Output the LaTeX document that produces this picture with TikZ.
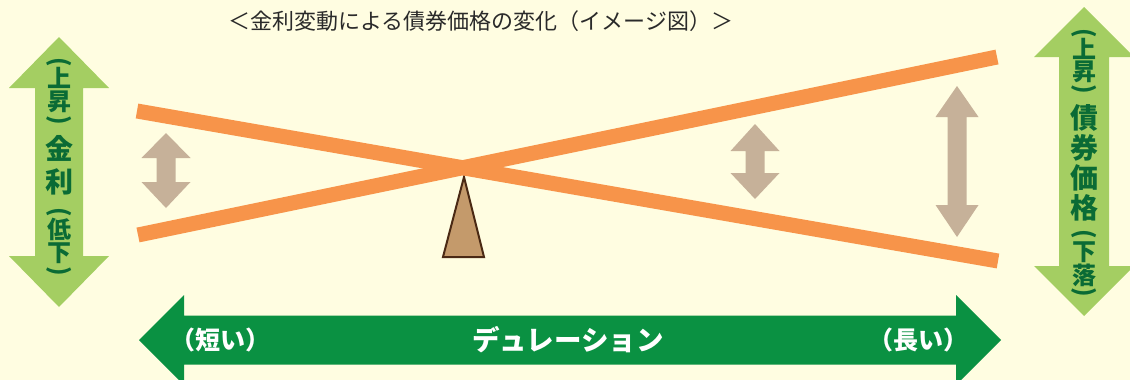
\documentclass[tikz,border=0pt]{standalone}
\usepackage{fontspec}
\setmainfont{Noto Sans CJK JP}
\begin{document}
\begin{tikzpicture}[x=1pt,y=-1pt,
  lgreen/.style={fill=arrowgreen,draw=none},
  tanarrow/.style={fill=tanc,draw=none},
  vtext/.style={text=textgreen,font=\bfseries\fontsize{24}{24}\selectfont,inner sep=0pt},
  vbig/.style={text=textgreen,font=\bfseries\fontsize{28}{28}\selectfont,inner sep=0pt},
  vparen/.style={text=textgreen,font=\bfseries\fontsize{24}{24}\selectfont,inner sep=0pt,rotate=-90},
  wtext/.style={text=white,font=\bfseries\fontsize{25}{25}\selectfont,inner sep=0pt},
  beam/.style={draw=orangec,line width=15pt}
]
\definecolor{bgc}{HTML}{FFFDE1}
\definecolor{arrowgreen}{HTML}{A4CE62}
\definecolor{textgreen}{HTML}{0A6B35}
\definecolor{darkgreen}{HTML}{0A9142}
\definecolor{tanc}{HTML}{C6B199}
\definecolor{orangec}{HTML}{F7944A}
\definecolor{fulcrum}{HTML}{C49A6B}
\definecolor{fulcrumline}{HTML}{4A2914}
\definecolor{titlec}{HTML}{2A2A2A}
\fill[bgc] (0,0) rectangle (1130,380);
\useasboundingbox (0,0) rectangle (1130,380);

% title
\node[text=titlec,font=\fontsize{22}{22}\selectfont,inner sep=0pt] (title) at (481,21) {＜金利変動による債券価格の変化（イメージ図）＞};

% left big arrow
\fill[lgreen] (59,37) -- (109,88) -- (83,88) -- (83,256) -- (109,256) -- (59,307) -- (9,256) -- (35,256) -- (35,88) -- (9,88) -- cycle;
% right big arrow
\fill[lgreen] (1084,7) -- (1134,57) -- (1109,57) -- (1109,266) -- (1134,266) -- (1084,316) -- (1034,266) -- (1059,266) -- (1059,57) -- (1034,57) -- cycle;

% bottom duration arrow
\fill[darkgreen] (139,340) -- (184,295) -- (184,315.5) -- (956,315.5) -- (956,295) -- (1001,340) -- (956,385) -- (956,364.5) -- (184,364.5) -- (184,385) -- cycle;

% tan arrows
\fill[tanarrow] (166,133) -- (190.5,158) -- (175.5,158) -- (175.5,182) -- (190.5,182) -- (166,208) -- (141.5,182) -- (156.5,182) -- (156.5,158) -- (141.5,158) -- cycle;
\fill[tanarrow] (755,124) -- (779.5,151) -- (764.5,151) -- (764.5,173) -- (779.5,173) -- (755,199) -- (730.5,173) -- (745.5,173) -- (745.5,151) -- (730.5,151) -- cycle;
\fill[tanarrow] (957,86) -- (978.5,117) -- (966.5,117) -- (966.5,205) -- (978.5,205) -- (957,237) -- (935.5,205) -- (947.5,205) -- (947.5,117) -- (935.5,117) -- cycle;

% fulcrum
\coordinate (apex) at (464,177);
\coordinate (bl) at (443,257);
\coordinate (br) at (484,257);
\filldraw[fill=fulcrum,draw=fulcrumline,line width=2pt,line join=miter] (apex) -- (br) -- (bl) -- cycle;

% beams
\coordinate (a1) at (137,111);
\coordinate (a2) at (998,261);
\coordinate (b1) at (138,235);
\coordinate (b2) at (997,57);
\draw[beam] (a1) -- (a2);
\draw[beam] (b1) -- (b2);

% left vertical text
\node[vparen] (lp1) at (59,62) {(};
\node[vtext] (l1) at (59,78) {上};
\node[vtext] (l2) at (59,102) {昇};
\node[vparen] (lp2) at (59,120) {)};
\node[vbig] (l3) at (59,148) {金};
\node[vbig] (l4) at (59,182) {利};
\node[vparen] (lp3) at (59,212) {(};
\node[vtext] (l5) at (59,229) {低};
\node[vtext] (l6) at (59,253) {下};
\node[vparen] (lp4) at (59,271) {)};

% right vertical text
\node[vparen] (rp1) at (1084,33) {(};
\node[vtext] (r1) at (1084,49) {上};
\node[vtext] (r2) at (1084,72) {昇};
\node[vparen] (rp2) at (1084,89) {)};
\node[vbig] (r3) at (1084,118) {債};
\node[vbig] (r4) at (1084,148) {券};
\node[vbig] (r5) at (1084,178) {価};
\node[vbig] (r6) at (1084,208) {格};
\node[vparen] (rp3) at (1084,234) {(};
\node[vtext] (r7) at (1084,252) {下};
\node[vtext] (r8) at (1084,275) {落};
\node[vparen] (rp4) at (1084,292) {)};

% duration labels
\node[wtext] (short) at (220,340) {（短い）};
\node[wtext,font=\bfseries\fontsize{27.5}{27.5}\selectfont] (dur) at (568,340) {デュレーション};
\node[wtext] (long) at (918,340) {（長い）};
\end{tikzpicture}
\end{document}
